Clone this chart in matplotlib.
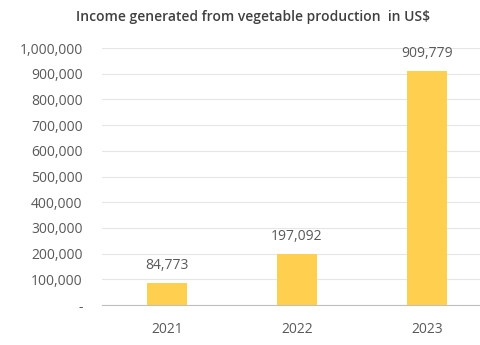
import matplotlib
matplotlib.use("Agg")
import matplotlib.pyplot as plt
from matplotlib.ticker import FuncFormatter

years = ["2021", "2022", "2023"]
income = [84773, 197092, 909779]
yticks = list(range(0, 1000001, 100000))

plt.rcParams['font.family'] = ['Open Sans', 'DejaVu Sans']
txt = '#595959'

fig = plt.figure(figsize=(4.81, 3.45), dpi=100)
ax = fig.add_axes([102 / 481, 40 / 345, 390 / 481, 257 / 345])
x = range(len(years))
ax.bar(x, income, width=0.31, color='#FFD050', zorder=3)
for xi, v in zip(x, income):
    ax.annotate(f"{v:,}", (xi, v), xytext=(0, 18), textcoords='offset pixels',
                ha='center', va='center', fontsize=10, color=txt)
ax.set_ylim(0, 1000000)
ax.set_xlim(-0.5, 2.5)
ax.set_yticks(yticks)
ax.yaxis.set_major_formatter(FuncFormatter(lambda v, p: '-' if v == 0 else f"{int(v):,}"))
ax.set_xticks(list(x))
ax.set_xticklabels(years)
ax.grid(axis='y', color='#E6E6E6', linewidth=0.8, zorder=0)
for s in ['top', 'right', 'left']:
    ax.spines[s].set_visible(False)
ax.spines['bottom'].set_color('#BFBFBF')
ax.tick_params(axis='y', length=0, labelsize=10, labelcolor=txt, pad=14)
ax.tick_params(axis='x', length=0, labelsize=10, labelcolor=txt, pad=12)
fig.text(253 / 481, 1 - 17 / 345, "Income generated from vegetable production  in US$", ha='center',
         va='center', fontsize=10, color='#404040', fontweight='semibold')
fig.savefig("out.png", dpi=100)
